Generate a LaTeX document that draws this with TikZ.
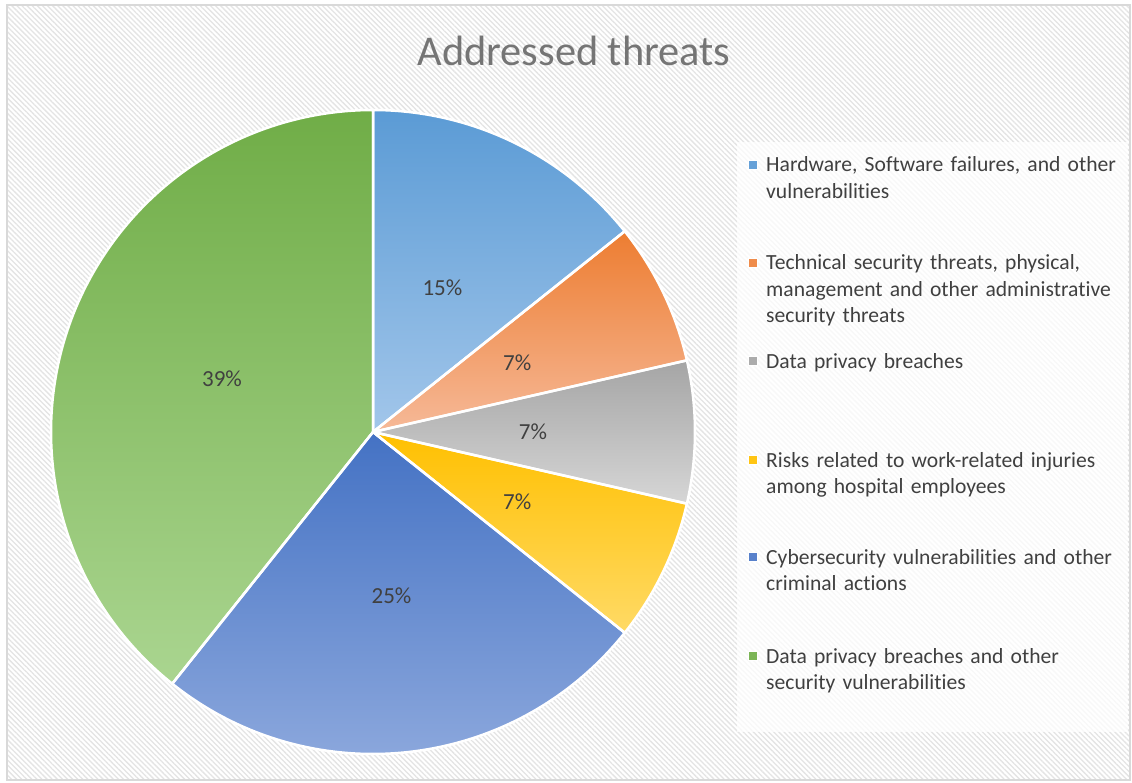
\documentclass[tikz,border=0pt]{standalone}
\usepackage{fontspec}
\setmainfont{Carlito}[RawFeature={-liga}]
\usetikzlibrary{patterns.meta}

\definecolor{txt}{HTML}{404040}
\definecolor{ttl}{HTML}{757575}
\definecolor{frame}{HTML}{D9D9D9}
\definecolor{hatch}{HTML}{E4E4E4}
% slice colours: top / bottom of each vertical gradient
\definecolor{blueA}{HTML}{5B9BD5}\definecolor{blueB}{HTML}{A2C6EA}
\definecolor{orA}{HTML}{ED7D31}\definecolor{orB}{HTML}{F6B998}
\definecolor{grA}{HTML}{A5A5A5}\definecolor{grB}{HTML}{D6D6D6}
\definecolor{yeA}{HTML}{FFC000}\definecolor{yeB}{HTML}{FFDA66}
\definecolor{dbA}{HTML}{4472C4}\definecolor{dbB}{HTML}{93ADDF}
\definecolor{gnA}{HTML}{70AD47}\definecolor{gnB}{HTML}{AAD590}

\tikzset{
  slice/.style={draw=white, line width=2.5pt, line join=round},
  pct/.style={font=\fontsize{23}{27}\selectfont, text=txt, inner sep=0pt},
  legtext/.style={font=\fontsize{21.6}{26.5}\selectfont, text=txt, anchor=base west,
                  text width=370pt, align=left, inner sep=0pt},
  marker/.style={draw=white, line width=1pt, minimum size=9pt, inner sep=0pt},
}

\begin{document}
\begin{tikzpicture}[x=1pt, y=-1pt]
  \useasboundingbox (0,0) rectangle (1132,783);
  % chart area: white ground with a fine diagonal hatch
  \fill[white] (0,0) rectangle (1132,783);
  \fill[pattern={Lines[angle=-45, distance=3.6pt, line width=1.3pt]}, pattern color=hatch]
    (7,5) rectangle (1130,780);
  \draw[frame, line width=1.5pt] (7,5) rectangle (1130,780);

  % title
  \node[font=\fontsize{42.4}{48}\selectfont, text=ttl, anchor=base] (title) at (574,66) {Addressed threats};

  % pie: 4, 2, 2, 2, 7 and 11 of 28, clockwise from twelve o'clock
  \begin{scope}[shift={(373,432)}, yscale=-1]
    \def\R{322}
    \shade[top color=blueA, bottom color=blueB] (0,0) -- (90:\R) arc[start angle=90, end angle=38.571, radius=\R] -- cycle;
    \shade[top color=orA, bottom color=orB] (0,0) -- (38.571:\R) arc[start angle=38.571, end angle=12.857, radius=\R] -- cycle;
    \shade[top color=grA, bottom color=grB] (0,0) -- (12.857:\R) arc[start angle=12.857, end angle=-12.857, radius=\R] -- cycle;
    \shade[top color=yeA, bottom color=yeB] (0,0) -- (-12.857:\R) arc[start angle=-12.857, end angle=-38.571, radius=\R] -- cycle;
    \shade[top color=dbA, bottom color=dbB] (0,0) -- (-38.571:\R) arc[start angle=-38.571, end angle=-128.571, radius=\R] -- cycle;
    \shade[top color=gnA, bottom color=gnB] (0,0) -- (-128.571:\R) arc[start angle=-128.571, end angle=-270, radius=\R] -- cycle;
    % white separators
    \draw[slice] (0,0) -- (90:\R) arc[start angle=90, end angle=38.571, radius=\R] -- cycle;
    \draw[slice] (0,0) -- (38.571:\R) arc[start angle=38.571, end angle=12.857, radius=\R] -- cycle;
    \draw[slice] (0,0) -- (12.857:\R) arc[start angle=12.857, end angle=-12.857, radius=\R] -- cycle;
    \draw[slice] (0,0) -- (-12.857:\R) arc[start angle=-12.857, end angle=-38.571, radius=\R] -- cycle;
    \draw[slice] (0,0) -- (-38.571:\R) arc[start angle=-38.571, end angle=-128.571, radius=\R] -- cycle;
    \draw[slice] (0,0) -- (-128.571:\R) arc[start angle=-128.571, end angle=-270, radius=\R] -- cycle;
    % data labels
    \node[pct] (p1) at (64.29:160) {15\%};
    \node[pct] (p2) at (25.71:160) {7\%};
    \node[pct] (p3) at (0:160) {7\%};
    \node[pct] (p4) at (-25.71:160) {7\%};
    \node[pct] (p5) at (-83.57:165) {25\%};
    \node[pct] (p6) at (-199.29:160) {39\%};
  \end{scope}

  % legend panel
  \fill[white, opacity=0.75] (737,142) rectangle (1128,732);

  \node[marker, fill=blueA!85!blueB] (m1) at (753,165) {};
  \node[legtext] (l1) at (766,172) {Hardware, Software failures, and other\\vulnerabilities};
  \node[marker, fill=orA!75!orB] (m2) at (753,263) {};
  \node[legtext] (l2) at (766,270) {Technical security threats, physical,\\management and other administrative\\security threats};
  \node[marker, fill=grA!85!grB] (m3) at (753,361) {};
  \node[legtext] (l3) at (766,368) {Data privacy breaches};
  \node[marker, fill=yeA!80!yeB] (m4) at (753,460) {};
  \node[legtext] (l4) at (766,467) {Risks related to work-related injuries\\among hospital employees};
  \node[marker, fill=dbA!75!dbB] (m5) at (753,557) {};
  \node[legtext] (l5) at (766,564) {Cybersecurity vulnerabilities and other\\criminal actions};
  \node[marker, fill=gnA!80!gnB] (m6) at (753,656) {};
  \node[legtext] (l6) at (766,663) {Data privacy breaches and other\\security vulnerabilities};
\end{tikzpicture}
\end{document}
